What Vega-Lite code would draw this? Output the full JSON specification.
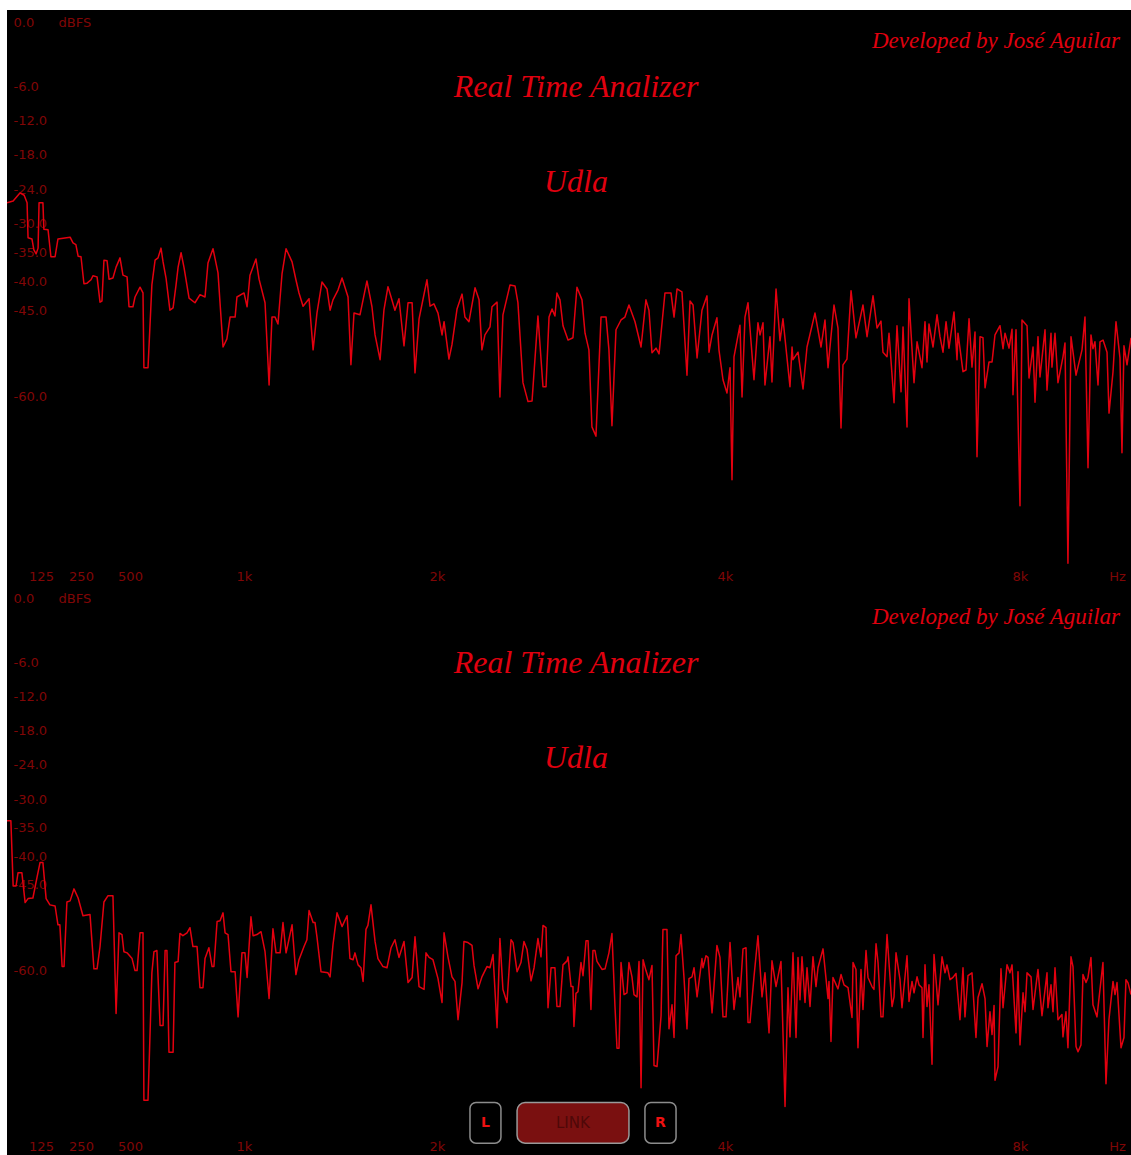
{
  "$schema": "https://vega.github.io/schema/vega-lite/v6.json",
  "background": "white",
  "padding": {"left": 7, "top": 10, "right": 0, "bottom": 0},
  "spacing": 0,
  "config": {
    "view": {"fill": "black", "stroke": null},
    "axis": {
      "domain": false, "ticks": false, "tickSize": 0, "grid": false,
      "labelColor": "#800606", "labelFont": "DejaVu Sans", "labelFontSize": 13,
      "labelOverlap": false, "labelFlush": false,
      "titleColor": "#800606", "titleFont": "DejaVu Sans", "titleFontSize": 13, "titleFontWeight": "normal"
    },
    "title": {
      "font": "Liberation Serif", "fontStyle": "italic", "fontSize": 32, "fontWeight": "normal", "color": "#e0000f",
      "subtitleFont": "Liberation Serif", "subtitleFontStyle": "italic", "subtitleFontSize": 32, "subtitleColor": "#e0000f",
      "anchor": "middle", "dx": 7, "offset": -189, "subtitlePadding": 63
    }
  },
  "datasets": {
    "channelL": [
      {"hz":20,"db":-26.3},{"hz":39,"db":-26.0},{"hz":60,"db":-24.6},{"hz":73,"db":-25.0},{"hz":82,"db":-26.3},{"hz":85,"db":-32.4},{"hz":97,"db":-32.6},{"hz":103,"db":-34.5},{"hz":110,"db":-35.2},{"hz":116,"db":-34.2},{"hz":119,"db":-26.3},{"hz":131,"db":-26.3},{"hz":134,"db":-30.9},{"hz":147,"db":-31.0},{"hz":156,"db":-35.7},{"hz":169,"db":-35.7},{"hz":178,"db":-32.6},{"hz":216,"db":-32.3},{"hz":225,"db":-33.3},{"hz":234,"db":-33.6},{"hz":241,"db":-35.6},{"hz":250,"db":-35.7},{"hz":265,"db":-40.4},{"hz":281,"db":-40.3},{"hz":301,"db":-39.7},{"hz":311,"db":-39.0},{"hz":332,"db":-39.2},{"hz":347,"db":-43.6},{"hz":357,"db":-43.4},{"hz":367,"db":-36.3},{"hz":383,"db":-36.4},{"hz":393,"db":-39.6},{"hz":413,"db":-39.4},{"hz":429,"db":-37.5},{"hz":449,"db":-35.9},{"hz":464,"db":-38.9},{"hz":485,"db":-39.2},{"hz":495,"db":-44.4},{"hz":513,"db":-44.4},{"hz":522,"db":-42.7},{"hz":544,"db":-41.0},{"hz":557,"db":-42.0},{"hz":561,"db":-55.0},{"hz":579,"db":-55.0},{"hz":596,"db":-40.6},{"hz":610,"db":-36.3},{"hz":623,"db":-35.9},{"hz":636,"db":-34.2},{"hz":645,"db":-36.6},{"hz":658,"db":-39.4},{"hz":675,"db":-45.0},{"hz":689,"db":-44.6},{"hz":702,"db":-40.6},{"hz":711,"db":-37.5},{"hz":724,"db":-35.0},{"hz":737,"db":-37.6},{"hz":759,"db":-42.9},{"hz":785,"db":-43.7},{"hz":807,"db":-42.3},{"hz":829,"db":-42.7},{"hz":842,"db":-36.8},{"hz":864,"db":-34.3},{"hz":886,"db":-38.5},{"hz":908,"db":-51.4},{"hz":925,"db":-50.0},{"hz":939,"db":-46.2},{"hz":961,"db":-46.2},{"hz":969,"db":-42.7},{"hz":1000,"db":-42.0},{"hz":1016,"db":-44.4},{"hz":1031,"db":-38.9},{"hz":1062,"db":-36.1},{"hz":1078,"db":-39.6},{"hz":1109,"db":-43.7},{"hz":1130,"db":-58.0},{"hz":1145,"db":-46.2},{"hz":1161,"db":-46.2},{"hz":1176,"db":-47.4},{"hz":1197,"db":-38.7},{"hz":1218,"db":-34.3},{"hz":1249,"db":-36.6},{"hz":1269,"db":-39.7},{"hz":1285,"db":-42.0},{"hz":1306,"db":-44.3},{"hz":1337,"db":-43.0},{"hz":1358,"db":-51.9},{"hz":1378,"db":-45.5},{"hz":1404,"db":-40.1},{"hz":1430,"db":-41.3},{"hz":1446,"db":-45.0},{"hz":1461,"db":-43.2},{"hz":1487,"db":-41.5},{"hz":1508,"db":-39.4},{"hz":1539,"db":-42.7},{"hz":1554,"db":-54.5},{"hz":1570,"db":-45.5},{"hz":1601,"db":-45.8},{"hz":1637,"db":-39.9},{"hz":1663,"db":-44.4},{"hz":1679,"db":-49.3},{"hz":1705,"db":-53.6},{"hz":1725,"db":-45.0},{"hz":1746,"db":-40.9},{"hz":1762,"db":-42.7},{"hz":1782,"db":-45.0},{"hz":1803,"db":-43.0},{"hz":1829,"db":-51.2},{"hz":1850,"db":-43.7},{"hz":1871,"db":-43.7},{"hz":1886,"db":-55.9},{"hz":1907,"db":-46.5},{"hz":1948,"db":-39.7},{"hz":1964,"db":-44.3},{"hz":1984,"db":-43.9},{"hz":2007,"db":-45.5},{"hz":2035,"db":-49.3},{"hz":2049,"db":-47.0},{"hz":2083,"db":-53.5},{"hz":2104,"db":-51.0},{"hz":2139,"db":-44.8},{"hz":2174,"db":-42.2},{"hz":2194,"db":-46.2},{"hz":2222,"db":-47.0},{"hz":2264,"db":-41.1},{"hz":2292,"db":-43.2},{"hz":2312,"db":-51.9},{"hz":2333,"db":-49.3},{"hz":2368,"db":-47.9},{"hz":2382,"db":-44.4},{"hz":2417,"db":-43.6},{"hz":2437,"db":-60.1},{"hz":2458,"db":-45.8},{"hz":2507,"db":-40.6},{"hz":2542,"db":-40.8},{"hz":2562,"db":-43.7},{"hz":2597,"db":-57.6},{"hz":2632,"db":-60.9},{"hz":2660,"db":-60.8},{"hz":2701,"db":-46.0},{"hz":2736,"db":-58.3},{"hz":2757,"db":-58.3},{"hz":2778,"db":-46.2},{"hz":2799,"db":-44.8},{"hz":2819,"db":-46.0},{"hz":2833,"db":-42.0},{"hz":2854,"db":-43.2},{"hz":2875,"db":-47.7},{"hz":2910,"db":-50.2},{"hz":2944,"db":-49.8},{"hz":2972,"db":-41.0},{"hz":3007,"db":-43.2},{"hz":3028,"db":-49.0},{"hz":3055,"db":-51.9},{"hz":3076,"db":-65.3},{"hz":3104,"db":-66.9},{"hz":3139,"db":-46.2},{"hz":3174,"db":-46.2},{"hz":3194,"db":-51.9},{"hz":3215,"db":-65.1},{"hz":3243,"db":-48.4},{"hz":3278,"db":-46.7},{"hz":3305,"db":-46.2},{"hz":3333,"db":-44.1},{"hz":3375,"db":-47.0},{"hz":3417,"db":-51.4},{"hz":3451,"db":-43.2},{"hz":3472,"db":-45.0},{"hz":3493,"db":-52.4},{"hz":3521,"db":-51.6},{"hz":3542,"db":-52.6},{"hz":3583,"db":-42.0},{"hz":3625,"db":-42.0},{"hz":3646,"db":-46.2},{"hz":3667,"db":-41.3},{"hz":3701,"db":-41.8},{"hz":3736,"db":-56.3},{"hz":3757,"db":-43.4},{"hz":3778,"db":-44.1},{"hz":3806,"db":-53.3},{"hz":3840,"db":-45.0},{"hz":3875,"db":-42.5},{"hz":3889,"db":-52.3},{"hz":3910,"db":-49.3},{"hz":3944,"db":-46.3},{"hz":3958,"db":-51.9},{"hz":3986,"db":-57.1},{"hz":4027,"db":-59.4},{"hz":4068,"db":-55.0},{"hz":4095,"db":-74.5},{"hz":4122,"db":-53.1},{"hz":4203,"db":-47.6},{"hz":4231,"db":-60.1},{"hz":4271,"db":-46.2},{"hz":4312,"db":-43.7},{"hz":4393,"db":-57.1},{"hz":4447,"db":-47.2},{"hz":4475,"db":-49.3},{"hz":4515,"db":-47.2},{"hz":4542,"db":-58.0},{"hz":4610,"db":-49.6},{"hz":4637,"db":-57.5},{"hz":4692,"db":-41.3},{"hz":4746,"db":-50.3},{"hz":4786,"db":-46.5},{"hz":4881,"db":-58.3},{"hz":4909,"db":-51.4},{"hz":4922,"db":-53.6},{"hz":4990,"db":-52.3},{"hz":5058,"db":-58.7},{"hz":5112,"db":-51.4},{"hz":5220,"db":-45.5},{"hz":5302,"db":-51.4},{"hz":5356,"db":-46.7},{"hz":5397,"db":-55.0},{"hz":5478,"db":-44.1},{"hz":5532,"db":-48.1},{"hz":5573,"db":-65.5},{"hz":5600,"db":-54.5},{"hz":5654,"db":-53.5},{"hz":5709,"db":-41.6},{"hz":5776,"db":-49.8},{"hz":5871,"db":-44.1},{"hz":5926,"db":-49.6},{"hz":6007,"db":-42.5},{"hz":6061,"db":-48.1},{"hz":6115,"db":-46.9},{"hz":6142,"db":-52.3},{"hz":6197,"db":-53.1},{"hz":6224,"db":-49.0},{"hz":6292,"db":-61.1},{"hz":6332,"db":-47.7},{"hz":6387,"db":-59.2},{"hz":6414,"db":-47.9},{"hz":6468,"db":-65.3},{"hz":6495,"db":-43.0},{"hz":6563,"db":-57.6},{"hz":6604,"db":-50.5},{"hz":6671,"db":-55.0},{"hz":6712,"db":-47.0},{"hz":6739,"db":-54.0},{"hz":6766,"db":-47.4},{"hz":6821,"db":-51.4},{"hz":6875,"db":-45.8},{"hz":6915,"db":-49.6},{"hz":6956,"db":-52.3},{"hz":6997,"db":-47.0},{"hz":7037,"db":-51.6},{"hz":7105,"db":-45.3},{"hz":7146,"db":-53.6},{"hz":7159,"db":-49.0},{"hz":7227,"db":-55.7},{"hz":7268,"db":-55.4},{"hz":7309,"db":-46.5},{"hz":7349,"db":-54.9},{"hz":7390,"db":-48.8},{"hz":7417,"db":-70.5},{"hz":7458,"db":-49.6},{"hz":7498,"db":-49.8},{"hz":7526,"db":-58.5},{"hz":7580,"db":-54.0},{"hz":7621,"db":-54.0},{"hz":7661,"db":-49.3},{"hz":7729,"db":-47.7},{"hz":7770,"db":-51.7},{"hz":7797,"db":-49.0},{"hz":7851,"db":-51.6},{"hz":7892,"db":-48.3},{"hz":7905,"db":-59.7},{"hz":7946,"db":-48.4},{"hz":8000,"db":-79.0},{"hz":8027,"db":-46.7},{"hz":8095,"db":-47.7},{"hz":8122,"db":-56.8},{"hz":8176,"db":-51.4},{"hz":8203,"db":-61.0},{"hz":8243,"db":-49.6},{"hz":8270,"db":-56.6},{"hz":8338,"db":-48.4},{"hz":8365,"db":-58.9},{"hz":8419,"db":-49.0},{"hz":8432,"db":-54.9},{"hz":8473,"db":-49.0},{"hz":8513,"db":-57.6},{"hz":8581,"db":-53.1},{"hz":8608,"db":-50.7},{"hz":8648,"db":-89.0},{"hz":8689,"db":-49.6},{"hz":8757,"db":-56.3},{"hz":8838,"db":-51.9},{"hz":8878,"db":-46.2},{"hz":8919,"db":-72.4},{"hz":8959,"db":-49.3},{"hz":8986,"db":-51.7},{"hz":9013,"db":-50.5},{"hz":9054,"db":-58.0},{"hz":9081,"db":-50.5},{"hz":9122,"db":-50.2},{"hz":9176,"db":-52.3},{"hz":9203,"db":-62.9},{"hz":9257,"db":-55.7},{"hz":9297,"db":-47.0},{"hz":9351,"db":-53.3},{"hz":9378,"db":-69.8},{"hz":9405,"db":-51.2},{"hz":9446,"db":-54.5},{"hz":9500,"db":-49.8}
    ],
    "channelR": [
      {"hz":20,"db":-33.8},{"hz":32,"db":-33.8},{"hz":39,"db":-45.2},{"hz":48,"db":-45.2},{"hz":54,"db":-42.9},{"hz":66,"db":-42.9},{"hz":76,"db":-48.1},{"hz":85,"db":-47.4},{"hz":100,"db":-47.3},{"hz":113,"db":-43.6},{"hz":122,"db":-41.1},{"hz":131,"db":-41.1},{"hz":141,"db":-47.4},{"hz":153,"db":-48.5},{"hz":169,"db":-48.7},{"hz":178,"db":-52.0},{"hz":184,"db":-52.0},{"hz":191,"db":-59.3},{"hz":197,"db":-59.3},{"hz":206,"db":-48.0},{"hz":216,"db":-47.8},{"hz":228,"db":-45.7},{"hz":241,"db":-47.3},{"hz":260,"db":-50.4},{"hz":296,"db":-50.2},{"hz":316,"db":-59.7},{"hz":332,"db":-59.7},{"hz":347,"db":-55.8},{"hz":367,"db":-48.0},{"hz":388,"db":-46.9},{"hz":413,"db":-46.9},{"hz":429,"db":-67.5},{"hz":444,"db":-53.4},{"hz":459,"db":-53.7},{"hz":469,"db":-56.7},{"hz":485,"db":-56.9},{"hz":509,"db":-57.9},{"hz":522,"db":-60.0},{"hz":531,"db":-60.0},{"hz":544,"db":-53.4},{"hz":557,"db":-53.4},{"hz":561,"db":-82.7},{"hz":579,"db":-82.7},{"hz":596,"db":-60.4},{"hz":605,"db":-56.7},{"hz":618,"db":-56.5},{"hz":632,"db":-69.6},{"hz":645,"db":-69.6},{"hz":654,"db":-56.5},{"hz":662,"db":-56.5},{"hz":671,"db":-74.3},{"hz":689,"db":-74.3},{"hz":697,"db":-58.6},{"hz":711,"db":-58.4},{"hz":719,"db":-53.5},{"hz":732,"db":-53.9},{"hz":750,"db":-53.4},{"hz":763,"db":-52.5},{"hz":776,"db":-55.8},{"hz":794,"db":-55.8},{"hz":807,"db":-63.0},{"hz":820,"db":-63.0},{"hz":829,"db":-57.9},{"hz":846,"db":-56.0},{"hz":860,"db":-59.3},{"hz":868,"db":-59.3},{"hz":882,"db":-51.4},{"hz":895,"db":-51.3},{"hz":908,"db":-49.9},{"hz":917,"db":-53.4},{"hz":930,"db":-53.7},{"hz":943,"db":-60.2},{"hz":961,"db":-60.2},{"hz":974,"db":-68.1},{"hz":991,"db":-56.9},{"hz":1005,"db":-56.9},{"hz":1016,"db":-61.2},{"hz":1036,"db":-50.6},{"hz":1047,"db":-53.9},{"hz":1067,"db":-53.7},{"hz":1088,"db":-53.2},{"hz":1109,"db":-56.7},{"hz":1130,"db":-64.9},{"hz":1150,"db":-52.7},{"hz":1166,"db":-56.9},{"hz":1187,"db":-56.9},{"hz":1202,"db":-51.6},{"hz":1218,"db":-56.9},{"hz":1249,"db":-52.0},{"hz":1269,"db":-60.7},{"hz":1285,"db":-58.1},{"hz":1311,"db":-55.8},{"hz":1326,"db":-54.6},{"hz":1337,"db":-49.5},{"hz":1358,"db":-51.6},{"hz":1368,"db":-51.6},{"hz":1378,"db":-54.1},{"hz":1399,"db":-60.2},{"hz":1435,"db":-60.4},{"hz":1446,"db":-61.1},{"hz":1461,"db":-55.5},{"hz":1482,"db":-49.9},{"hz":1508,"db":-52.3},{"hz":1534,"db":-50.4},{"hz":1549,"db":-57.9},{"hz":1565,"db":-58.1},{"hz":1575,"db":-56.9},{"hz":1591,"db":-59.0},{"hz":1606,"db":-59.5},{"hz":1617,"db":-61.9},{"hz":1632,"db":-52.8},{"hz":1642,"db":-52.1},{"hz":1658,"db":-48.5},{"hz":1679,"db":-54.9},{"hz":1694,"db":-57.9},{"hz":1720,"db":-59.3},{"hz":1741,"db":-59.5},{"hz":1762,"db":-56.0},{"hz":1782,"db":-54.6},{"hz":1803,"db":-57.7},{"hz":1829,"db":-54.9},{"hz":1850,"db":-62.1},{"hz":1871,"db":-61.2},{"hz":1886,"db":-54.1},{"hz":1907,"db":-62.8},{"hz":1933,"db":-63.3},{"hz":1943,"db":-56.9},{"hz":1959,"db":-57.7},{"hz":1979,"db":-58.1},{"hz":2007,"db":-61.4},{"hz":2035,"db":-65.6},{"hz":2049,"db":-53.4},{"hz":2076,"db":-57.6},{"hz":2104,"db":-61.1},{"hz":2125,"db":-61.9},{"hz":2146,"db":-68.6},{"hz":2174,"db":-62.1},{"hz":2187,"db":-54.9},{"hz":2215,"db":-55.1},{"hz":2243,"db":-55.6},{"hz":2257,"db":-59.1},{"hz":2285,"db":-63.2},{"hz":2312,"db":-61.1},{"hz":2347,"db":-59.3},{"hz":2368,"db":-59.5},{"hz":2389,"db":-57.2},{"hz":2417,"db":-70.0},{"hz":2437,"db":-54.4},{"hz":2458,"db":-63.3},{"hz":2486,"db":-65.6},{"hz":2514,"db":-54.6},{"hz":2528,"db":-55.1},{"hz":2556,"db":-60.2},{"hz":2583,"db":-58.6},{"hz":2604,"db":-54.9},{"hz":2625,"db":-56.3},{"hz":2653,"db":-61.8},{"hz":2674,"db":-59.5},{"hz":2701,"db":-54.4},{"hz":2722,"db":-57.6},{"hz":2736,"db":-52.1},{"hz":2757,"db":-52.5},{"hz":2771,"db":-66.5},{"hz":2792,"db":-59.5},{"hz":2819,"db":-59.5},{"hz":2833,"db":-66.3},{"hz":2854,"db":-66.3},{"hz":2875,"db":-59.0},{"hz":2903,"db":-58.3},{"hz":2910,"db":-57.6},{"hz":2931,"db":-62.8},{"hz":2944,"db":-62.8},{"hz":2951,"db":-69.8},{"hz":2965,"db":-64.0},{"hz":2979,"db":-63.7},{"hz":3000,"db":-58.6},{"hz":3014,"db":-60.9},{"hz":3035,"db":-54.8},{"hz":3049,"db":-54.8},{"hz":3069,"db":-66.8},{"hz":3083,"db":-56.5},{"hz":3097,"db":-56.5},{"hz":3111,"db":-58.4},{"hz":3146,"db":-59.8},{"hz":3167,"db":-59.7},{"hz":3194,"db":-56.9},{"hz":3215,"db":-53.5},{"hz":3236,"db":-66.3},{"hz":3250,"db":-73.6},{"hz":3264,"db":-73.6},{"hz":3278,"db":-58.6},{"hz":3299,"db":-64.2},{"hz":3319,"db":-63.9},{"hz":3333,"db":-58.6},{"hz":3354,"db":-61.1},{"hz":3368,"db":-64.2},{"hz":3389,"db":-64.6},{"hz":3403,"db":-58.4},{"hz":3417,"db":-80.5},{"hz":3431,"db":-58.1},{"hz":3451,"db":-60.0},{"hz":3472,"db":-61.6},{"hz":3493,"db":-59.1},{"hz":3507,"db":-76.6},{"hz":3528,"db":-76.8},{"hz":3556,"db":-67.9},{"hz":3569,"db":-52.8},{"hz":3597,"db":-52.8},{"hz":3611,"db":-70.2},{"hz":3632,"db":-66.0},{"hz":3646,"db":-71.7},{"hz":3660,"db":-57.4},{"hz":3681,"db":-56.9},{"hz":3694,"db":-53.7},{"hz":3715,"db":-61.1},{"hz":3736,"db":-70.2},{"hz":3750,"db":-61.4},{"hz":3771,"db":-61.1},{"hz":3785,"db":-59.5},{"hz":3806,"db":-64.6},{"hz":3840,"db":-57.9},{"hz":3847,"db":-59.5},{"hz":3868,"db":-57.4},{"hz":3882,"db":-57.7},{"hz":3910,"db":-67.4},{"hz":3944,"db":-55.6},{"hz":3965,"db":-57.7},{"hz":3986,"db":-68.1},{"hz":4014,"db":-68.1},{"hz":4068,"db":-55.1},{"hz":4122,"db":-66.8},{"hz":4176,"db":-61.2},{"hz":4203,"db":-64.6},{"hz":4244,"db":-56.2},{"hz":4285,"db":-56.0},{"hz":4312,"db":-69.1},{"hz":4339,"db":-69.1},{"hz":4393,"db":-61.1},{"hz":4447,"db":-53.9},{"hz":4502,"db":-64.6},{"hz":4542,"db":-60.4},{"hz":4597,"db":-70.9},{"hz":4637,"db":-58.3},{"hz":4692,"db":-62.8},{"hz":4759,"db":-58.4},{"hz":4814,"db":-83.8},{"hz":4854,"db":-63.0},{"hz":4881,"db":-71.6},{"hz":4922,"db":-56.9},{"hz":4963,"db":-71.7},{"hz":4990,"db":-57.7},{"hz":5017,"db":-65.1},{"hz":5044,"db":-57.6},{"hz":5085,"db":-65.6},{"hz":5112,"db":-59.5},{"hz":5153,"db":-66.3},{"hz":5193,"db":-57.6},{"hz":5234,"db":-62.8},{"hz":5261,"db":-59.5},{"hz":5329,"db":-56.2},{"hz":5397,"db":-64.9},{"hz":5410,"db":-61.9},{"hz":5437,"db":-72.4},{"hz":5464,"db":-61.2},{"hz":5532,"db":-63.2},{"hz":5573,"db":-60.7},{"hz":5614,"db":-62.5},{"hz":5668,"db":-63.0},{"hz":5722,"db":-68.2},{"hz":5736,"db":-58.6},{"hz":5776,"db":-59.8},{"hz":5803,"db":-73.5},{"hz":5844,"db":-59.8},{"hz":5871,"db":-66.8},{"hz":5912,"db":-56.5},{"hz":5939,"db":-61.2},{"hz":5993,"db":-62.8},{"hz":6020,"db":-63.3},{"hz":6048,"db":-55.3},{"hz":6075,"db":-58.6},{"hz":6115,"db":-68.1},{"hz":6142,"db":-68.1},{"hz":6197,"db":-53.7},{"hz":6265,"db":-66.3},{"hz":6292,"db":-64.6},{"hz":6319,"db":-56.9},{"hz":6373,"db":-61.6},{"hz":6400,"db":-66.5},{"hz":6468,"db":-57.4},{"hz":6495,"db":-65.4},{"hz":6536,"db":-61.9},{"hz":6563,"db":-63.9},{"hz":6604,"db":-61.1},{"hz":6631,"db":-62.5},{"hz":6671,"db":-63.0},{"hz":6685,"db":-71.7},{"hz":6712,"db":-59.0},{"hz":6739,"db":-66.3},{"hz":6766,"db":-62.5},{"hz":6807,"db":-76.4},{"hz":6834,"db":-57.2},{"hz":6888,"db":-66.0},{"hz":6943,"db":-57.6},{"hz":6983,"db":-60.4},{"hz":7010,"db":-59.0},{"hz":7051,"db":-61.6},{"hz":7092,"db":-61.2},{"hz":7132,"db":-60.5},{"hz":7186,"db":-68.6},{"hz":7227,"db":-59.5},{"hz":7254,"db":-68.1},{"hz":7295,"db":-60.9},{"hz":7349,"db":-60.4},{"hz":7403,"db":-71.7},{"hz":7431,"db":-64.7},{"hz":7485,"db":-62.3},{"hz":7526,"db":-64.9},{"hz":7553,"db":-73.3},{"hz":7593,"db":-67.2},{"hz":7621,"db":-71.2},{"hz":7648,"db":-66.1},{"hz":7661,"db":-79.2},{"hz":7702,"db":-76.8},{"hz":7742,"db":-59.7},{"hz":7770,"db":-66.5},{"hz":7824,"db":-59.0},{"hz":7864,"db":-60.4},{"hz":7892,"db":-59.0},{"hz":7946,"db":-70.9},{"hz":7973,"db":-60.2},{"hz":8000,"db":-73.0},{"hz":8041,"db":-63.9},{"hz":8068,"db":-67.2},{"hz":8095,"db":-60.4},{"hz":8149,"db":-61.1},{"hz":8176,"db":-66.8},{"hz":8243,"db":-59.8},{"hz":8297,"db":-67.9},{"hz":8365,"db":-60.4},{"hz":8378,"db":-66.5},{"hz":8419,"db":-62.5},{"hz":8446,"db":-67.2},{"hz":8473,"db":-59.5},{"hz":8513,"db":-68.6},{"hz":8567,"db":-67.7},{"hz":8581,"db":-71.6},{"hz":8621,"db":-67.2},{"hz":8648,"db":-73.5},{"hz":8689,"db":-57.6},{"hz":8716,"db":-59.3},{"hz":8757,"db":-73.3},{"hz":8784,"db":-74.2},{"hz":8824,"db":-73.0},{"hz":8851,"db":-60.7},{"hz":8892,"db":-62.1},{"hz":8919,"db":-61.2},{"hz":8959,"db":-57.7},{"hz":8986,"db":-66.0},{"hz":9040,"db":-68.1},{"hz":9121,"db":-58.6},{"hz":9162,"db":-79.8},{"hz":9202,"db":-68.6},{"hz":9257,"db":-61.9},{"hz":9284,"db":-64.2},{"hz":9311,"db":-62.1},{"hz":9365,"db":-73.5},{"hz":9405,"db":-71.7},{"hz":9432,"db":-61.6},{"hz":9459,"db":-62.1},{"hz":9500,"db":-64.2}
    ]
  },
  "vconcat": [
    {
      "width": 1124,
      "height": 576,
      "title": {"text": "Real Time Analizer", "subtitle": "Udla"},
      "layer": [
        {
          "data": {"name": "channelL"},
          "mark": {"type": "line", "color": "#e3000f", "strokeWidth": 1.5, "strokeJoin": "round", "clip": true},
          "encoding": {
            "x": {
              "field": "hz", "type": "quantitative",
              "scale": {"domain": [20, 125, 250, 500, 1000, 2000, 4000, 8000, 9500], "range": [0, 34, 74, 123, 237, 430, 718, 1013, 1124], "nice": false, "zero": false},
              "axis": {"values": [125, 250, 500, 1000, 2000, 4000, 8000], "labelExpr": "datum.value >= 1000 ? (datum.value / 1000) + 'k' : '' + datum.value", "labelPadding": -16, "labelBaseline": "top", "domain": true, "domainColor": "#2e2e2e", "domainWidth": 1, "title": "Hz", "titleX": 1110, "titleY": -16, "titleBaseline": "top", "titleAlign": "center"}
            },
            "y": {
              "field": "db", "type": "quantitative",
              "scale": {"domain": [-92.8, -6, 0], "range": [575, 76, 12], "nice": false, "zero": false},
              "axis": {"values": [0, -6, -12, -18, -24, -30, -35, -40, -45, -60], "labelExpr": "(datum.value < 0 ? '-' : '') + format(abs(datum.value), '.1f')", "labelAlign": "left", "labelBaseline": "middle", "labelPadding": -6, "title": "dBFS", "titleAngle": 0, "titleX": 51, "titleY": 12, "titleAlign": "left", "titleBaseline": "middle"}
            }
          }
        },
        {
          "data": {"values": [{}]},
          "mark": {"type": "text", "font": "Liberation Serif", "fontStyle": "italic", "fontSize": 23, "color": "#e0000f", "align": "right", "baseline": "middle"},
          "encoding": {
            "x": {"datum": 9351, "type": "quantitative"},
            "y": {"datum": -1.8, "type": "quantitative"},
            "text": {"value": "Developed by José Aguilar"}
          }
        }
      ]
    },
    {
      "width": 1124,
      "height": 569,
      "title": {"text": "Real Time Analizer", "subtitle": "Udla"},
      "layer": [
        {
          "data": {"name": "channelR"},
          "mark": {"type": "line", "color": "#e3000f", "strokeWidth": 1.5, "strokeJoin": "round", "clip": true},
          "encoding": {
            "x": {
              "field": "hz", "type": "quantitative",
              "scale": {"domain": [20, 125, 250, 500, 1000, 2000, 4000, 8000, 9500], "range": [0, 34, 74, 123, 237, 430, 718, 1013, 1124], "nice": false, "zero": false},
              "axis": {"values": [125, 250, 500, 1000, 2000, 4000, 8000], "labelExpr": "datum.value >= 1000 ? (datum.value / 1000) + 'k' : '' + datum.value", "labelPadding": -15, "labelBaseline": "top", "title": "Hz", "titleX": 1110, "titleY": -15, "titleBaseline": "top", "titleAlign": "center"}
            },
            "y": {
              "field": "db", "type": "quantitative",
              "scale": {"domain": [-92.8, -6, 0], "range": [572, 76, 12], "nice": false, "zero": false},
              "axis": {"values": [0, -6, -12, -18, -24, -30, -35, -40, -45, -60], "labelExpr": "(datum.value < 0 ? '-' : '') + format(abs(datum.value), '.1f')", "labelAlign": "left", "labelBaseline": "middle", "labelPadding": -6, "title": "dBFS", "titleAngle": 0, "titleX": 51, "titleY": 12, "titleAlign": "left", "titleBaseline": "middle"}
            }
          }
        },
        {
          "data": {"values": [{}]},
          "mark": {"type": "text", "font": "Liberation Serif", "fontStyle": "italic", "fontSize": 23, "color": "#e0000f", "align": "right", "baseline": "middle"},
          "encoding": {
            "x": {"datum": 9351, "type": "quantitative"},
            "y": {"datum": -1.8, "type": "quantitative"},
            "text": {"value": "Developed by José Aguilar"}
          }
        },
        {
          "data": {"values": [{}]},
          "mark": {"type": "rect", "fill": "black", "stroke": "#8c8c8c", "strokeWidth": 1.5, "cornerRadius": 6},
          "encoding": {
            "x": {"datum": 2229, "type": "quantitative"}, "x2": {"datum": 2444},
            "y": {"datum": -83.1, "type": "quantitative"}, "y2": {"datum": -90.2}
          }
        },
        {
          "data": {"values": [{}]},
          "mark": {"type": "rect", "fill": "#7a1010", "stroke": "#9a9a9a", "strokeWidth": 1.5, "cornerRadius": 8},
          "encoding": {
            "x": {"datum": 2556, "type": "quantitative"}, "x2": {"datum": 3333},
            "y": {"datum": -83.1, "type": "quantitative"}, "y2": {"datum": -90.2}
          }
        },
        {
          "data": {"values": [{}]},
          "mark": {"type": "rect", "fill": "black", "stroke": "#8c8c8c", "strokeWidth": 1.5, "cornerRadius": 6},
          "encoding": {
            "x": {"datum": 3444, "type": "quantitative"}, "x2": {"datum": 3660},
            "y": {"datum": -83.1, "type": "quantitative"}, "y2": {"datum": -90.2}
          }
        },
        {
          "data": {"values": [{}]},
          "mark": {"type": "text", "font": "DejaVu Sans", "fontSize": 14, "fontWeight": "bold", "color": "#ee1111", "align": "center", "baseline": "middle"},
          "encoding": {
            "x": {"datum": 2337, "type": "quantitative"},
            "y": {"datum": -86.7, "type": "quantitative"},
            "text": {"value": "L"}
          }
        },
        {
          "data": {"values": [{}]},
          "mark": {"type": "text", "font": "DejaVu Sans", "fontSize": 15, "color": "#4e0808", "align": "center", "baseline": "middle"},
          "encoding": {
            "x": {"datum": 2944, "type": "quantitative"},
            "y": {"datum": -86.7, "type": "quantitative"},
            "text": {"value": "LINK"}
          }
        },
        {
          "data": {"values": [{}]},
          "mark": {"type": "text", "font": "DejaVu Sans", "fontSize": 14, "fontWeight": "bold", "color": "#ee1111", "align": "center", "baseline": "middle"},
          "encoding": {
            "x": {"datum": 3552, "type": "quantitative"},
            "y": {"datum": -86.7, "type": "quantitative"},
            "text": {"value": "R"}
          }
        }
      ]
    }
  ]
}
